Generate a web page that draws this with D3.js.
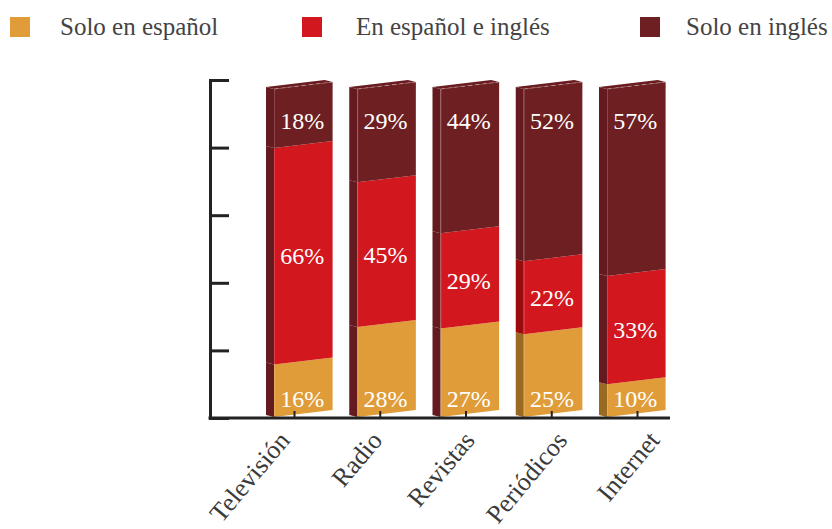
<!DOCTYPE html>
<html lang="es">
<head>
<meta charset="UTF-8">
<title>Consumo de medios por idioma</title>
<style>
  body { margin: 0; background: #fff; }
  svg { display: block; }
  text { font-family: "Liberation Serif", "Tinos", "DejaVu Serif", serif; }
</style>
</head>
<body>
<div id="chart"></div>
<script src="https://cdn.jsdelivr.net/npm/d3@7"></script>
<script>
// data
const categories = ["Televisión", "Radio", "Revistas", "Periódicos", "Internet"];
const seriesNames = ["Solo en español", "En español e inglés", "Solo en inglés"];
const soloEspanol = [16, 28, 27, 25, 10];
const espanolIngles = [66, 45, 29, 22, 33];
const soloIngles = [18, 29, 44, 52, 57];
const yTicks = [0, 20, 40, 60, 80, 100];

// styles
const serif = "'Liberation Serif', 'DejaVu Serif', serif";
const colors = ["#df9c39", "#d2171f", "#6e1f22"];
const M = "#641a1e", R = "#9c0b0b", O = "#9a6a22";
// left side faces of each bar, bottom to top (the original mixes them)
const sideColors = [[M, M, M], [M, M, M], [M, M, M], [O, R, M], [O, M, M]];

const width = 832, height = 529;
const axisX = 210, baseY = 418;
const depthX = 8, depthY = 2, skew = 7;

const svg = d3.select("#chart").append("svg")
  .attr("width", width)
  .attr("height", height)
  .attr("font-family", serif);

// legend
const legendX = [10, 302, 640], legendTextX = [60, 356, 686];
const legend = svg.append("g");
seriesNames.forEach((name, i) => {
  legend.append("rect")
    .attr("x", legendX[i]).attr("y", 17)
    .attr("width", 20).attr("height", 20)
    .attr("fill", colors[i]);
  legend.append("text")
    .attr("x", legendTextX[i]).attr("y", 35)
    .attr("font-family", serif)
    .attr("font-size", 25)
    .attr("fill", "#444")
    .text(name);
});

// y axis (no labels, ticks pointing right)
const y = d3.scaleLinear().domain([0, 100]).range([baseY, 80]);
const yAxis = svg.append("g")
  .attr("transform", "translate(" + axisX + ",0)")
  .call(d3.axisRight(y).tickValues(yTicks).tickSize(19).tickSizeOuter(19).tickFormat(""));
yAxis.selectAll("path, line").attr("stroke", "#222").attr("stroke-width", 3);

// bars
const rows = categories.map((c, i) => ({
  cat: c,
  s0: soloEspanol[i], s1: espanolIngles[i], s2: soloIngles[i]
}));
const stack = d3.stack().keys(["s0", "s1", "s2"]).offset(d3.stackOffsetExpand);
const stacked = stack(rows);

const barX = d3.scaleBand().domain(categories).range([266, 665.6]).paddingInner(0.2).paddingOuter(0);
const barY = d3.scaleLinear().domain([0, 1]).range([417, 89]);

const bars = svg.append("g");
categories.forEach((cat, ci) => {
  const x0 = barX(cat) + depthX;
  const x1 = barX(cat) + barX.bandwidth();
  const g = bars.append("g");

  stacked.forEach((layer, si) => {
    const d = layer[ci];
    const yb = barY(d[0]), yt = barY(d[1]);
    // front face, skewed upward to the right
    g.append("polygon")
      .attr("points", [[x0, yb], [x1, yb - skew], [x1, yt - skew], [x0, yt]].join(" "))
      .attr("fill", colors[si]);
    // side face
    g.append("polygon")
      .attr("points", [[x0, yb], [x0, yt], [x0 - depthX, yt - depthY], [x0 - depthX, yb - depthY]].join(" "))
      .attr("fill", sideColors[ci][si]);
  });

  // top face
  const yT = barY(1);
  g.append("polygon")
    .attr("points", [[x0, yT], [x1, yT - skew], [x1 - depthX, yT - skew - depthY], [x0 - depthX, yT - depthY]].join(" "))
    .attr("fill", "#6a1c20");
  g.append("line")
    .attr("x1", x0).attr("y1", yT).attr("x2", x1).attr("y2", yT - skew)
    .attr("stroke", "rgba(255,255,255,0.35)").attr("stroke-dasharray", "4,3");
  g.append("line")
    .attr("x1", x0 + 0.5).attr("y1", yT).attr("x2", x0 + 0.5).attr("y2", barY(0))
    .attr("stroke", "rgba(255,255,255,0.18)");

  // value labels
  const cx = (x0 + x1) / 2 - 1;
  stacked.forEach((layer, si) => {
    const d = layer[ci];
    let ly;
    if (si === 0) ly = barY(0) - skew / 2 - 15;
    else if (si === 2) ly = barY(1) - skew / 2 + 35;
    else ly = (barY(d[0]) + barY(d[1])) / 2 - skew / 2 + 3;
    g.append("text")
      .attr("x", cx).attr("y", ly)
      .attr("dy", "0.35em")
      .attr("text-anchor", "middle")
      .attr("font-family", serif)
      .attr("font-size", 24)
      .attr("fill", "#fff")
      .text(d.data["s" + si] + "%");
  });
});

// baseline with small category ticks
const tickX = d3.scalePoint().domain(categories).range([294, 637]);
svg.append("line")
  .attr("x1", axisX - 1.5).attr("x2", 670)
  .attr("y1", baseY).attr("y2", baseY)
  .attr("stroke", "#222").attr("stroke-width", 3);
const xAxis = svg.append("g")
  .attr("transform", "translate(0," + baseY + ")")
  .call(d3.axisBottom(tickX).tickSize(-7).tickFormat(""));
xAxis.select(".domain").remove();
xAxis.selectAll("line").attr("stroke", "#222").attr("stroke-width", 2);

// rotated category labels
const labelX = d3.scalePoint().domain(categories).range([291, 661]);
svg.append("g").selectAll("text")
  .data(categories)
  .enter().append("text")
  .attr("transform", d => "translate(" + labelX(d) + ",441) rotate(-50)")
  .attr("text-anchor", "end")
  .attr("font-family", serif)
  .attr("font-size", 26)
  .attr("fill", "#3a3a3a")
  .text(d => d);
</script>
</body>
</html>
